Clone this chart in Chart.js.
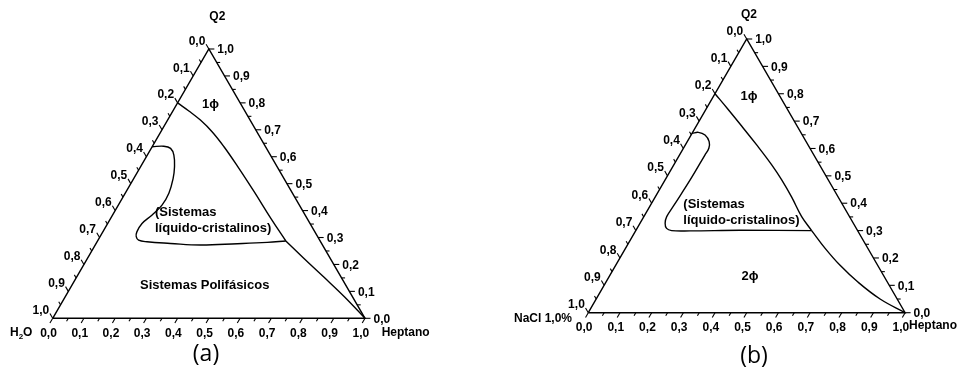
<!DOCTYPE html>
<html><head><meta charset="utf-8">
<script src="https://cdn.jsdelivr.net/npm/chart.js@4"></script>
<style>
html,body{margin:0;padding:0;background:#fff;width:962px;height:368px;overflow:hidden}
canvas{position:absolute;top:0}
#ca{left:0}
#cb{left:481px}
</style></head><body>
<canvas id="ca" width="481" height="368"></canvas>
<canvas id="cb" width="481" height="368"></canvas>
<script>
// ---- tick values / labels (shared by all three ternary axes) ----
const tickValues = [0, 0.1, 0.2, 0.3, 0.4, 0.5, 0.6, 0.7, 0.8, 0.9, 1.0];
const tickLabels = ['0,0','0,1','0,2','0,3','0,4','0,5','0,6','0,7','0,8','0,9','1,0'];
const minorTickValues = [0.05, 0.15, 0.25, 0.35, 0.45, 0.55, 0.65, 0.75, 0.85, 0.95];

// ---- diagram (a): H2O / Q2 / Heptano (fractions of Heptano and Q2) ----
// 1-phase boundary, upper branch (left edge -> junction) and lower branch (junction -> Heptano vertex)
const boundaryA_upper_heptano = [0, 0.051, 0.105, 0.165, 0.230, 0.309, 0.410, 0.513, 0.603];
const boundaryA_upper_q2      = [0.800, 0.770, 0.736, 0.692, 0.637, 0.565, 0.470, 0.371, 0.287];
const boundaryA_lower_heptano = [0.603, 0.695, 0.793, 0.894, 1];
const boundaryA_lower_q2      = [0.287, 0.221, 0.152, 0.080, 0];
// liquid-crystalline region
const lcA_heptano = [0, 0.036, 0.062, 0.085, 0.109, 0.126, 0.140, 0.140, 0.126, 0.110, 0.109, 0.116, 0.130, 0.160, 0.238, 0.337, 0.453, 0.546, 0.603];
const lcA_q2      = [0.637, 0.639, 0.631, 0.606, 0.562, 0.519, 0.464, 0.420, 0.383, 0.352, 0.321, 0.303, 0.290, 0.284, 0.278, 0.272, 0.277, 0.282, 0.287];

// ---- diagram (b): NaCl 1,0% / Q2 / Heptano ----
const boundaryB_upper_heptano = [0, 0.066, 0.143, 0.225, 0.309, 0.368, 0.431, 0.498, 0.555];
const boundaryB_upper_q2      = [0.800, 0.746, 0.682, 0.613, 0.540, 0.485, 0.422, 0.351, 0.300];
const boundaryB_lower_heptano = [0.555, 0.629, 0.707, 0.795, 0.896, 1];
const boundaryB_lower_q2      = [0.300, 0.236, 0.174, 0.112, 0.050, 0];
const lcB_heptano = [0, 0.018, 0.044, 0.069, 0.080, 0.080, 0.079, 0.074, 0.072, 0.079, 0.093, 0.113, 0.172, 0.328, 0.555];
const lcB_q2      = [0.655, 0.659, 0.649, 0.625, 0.601, 0.576, 0.485, 0.390, 0.351, 0.327, 0.308, 0.300, 0.299, 0.301, 0.300];

// ternary (heptano, q2) -> cartesian data space of a triangle with base [0,1] and apex at (0.5,1)
function toXY(h, q) { return { x: h + q / 2, y: q }; }
function series(hs, qs) { return hs.map((h, i) => toXY(h, qs[i])); }
const triangle = [toXY(0, 0), toXY(1, 0), toXY(0, 1), toXY(0, 0)];

const ternaryPlugin = {
  id: 'ternary',
  afterDatasetsDraw(chart, args, opts) {
    const ctx = chart.ctx, sx = chart.scales.x, sy = chart.scales.y;
    const P = (x, y) => ({ X: sx.getPixelForValue(x), Y: sy.getPixelForValue(y) });
    const unit = (a, b) => { const dx = b.X - a.X, dy = b.Y - a.Y, l = Math.hypot(dx, dy); return { X: dx / l, Y: dy / l }; };
    const BL = P(0, 0), BR = P(1, 0), T = P(0.5, 1);
    const dB = unit(T, BL), dR = { X: 1, Y: 0 }, dL = unit(BR, T);
    ctx.save();
    ctx.strokeStyle = '#000';
    ctx.lineWidth = 1.1;
    const tick = (p, d, len) => { ctx.beginPath(); ctx.moveTo(p.X, p.Y); ctx.lineTo(p.X + d.X * len, p.Y + d.Y * len); ctx.stroke(); };
    const all = tickValues.map(v => [v, 5.5]).concat(minorTickValues.map(v => [v, 3.5]));
    all.forEach(([v, len]) => {
      tick(P(v, 0), dB, len);
      tick(P(1 - v / 2, v), dR, len);
      tick(P((1 - v) / 2, 1 - v), dL, len);
    });
    ctx.fillStyle = '#000';
    ctx.font = 'bold 12px "Liberation Sans", Arial, sans-serif';
    ctx.textBaseline = 'alphabetic';
    tickValues.forEach((v, i) => {
      const lab = tickLabels[i];
      let p = P(v, 0); ctx.textAlign = 'center'; ctx.fillText(lab, p.X - 4.2, p.Y + 18.5);
      p = P(1 - v / 2, v); ctx.textAlign = 'left'; ctx.fillText(lab, p.X + 8.5, p.Y + 4.2);
      p = P((1 - v) / 2, 1 - v); ctx.textAlign = 'right'; ctx.fillText(lab, p.X - 3.5, p.Y - 4.4);
    });
    (opts.texts || []).forEach(t => {
      ctx.font = t.font; ctx.textAlign = t.align || 'left';
      ctx.textBaseline = t.baseline || 'alphabetic';
      if (t.parts) {
        let x = t.x;
        t.parts.forEach(pt => {
          ctx.font = pt.font || t.font; ctx.textAlign = 'left';
          ctx.fillText(pt.s, x, t.y + (pt.dy || 0));
          x += ctx.measureText(pt.s).width;
        });
      } else {
        ctx.fillText(t.text, t.x, t.y);
      }
    });
    ctx.restore();
  }
};

const LBL = 'bold 12px "Liberation Sans", Arial, sans-serif';
const ANN = 'bold 13px "Liberation Sans", Arial, sans-serif';
const CAP = '23px "Open Sans", Lato, sans-serif';

function makeChart(id, curves, padding, texts) {
  const lineDs = (data, tension) => ({
    data, showLine: true, borderColor: '#000', borderWidth: 1.4, pointRadius: 0,
    tension, fill: false, clip: false
  });
  return new Chart(document.getElementById(id), {
    type: 'scatter',
    data: { datasets: [lineDs(triangle, 0)].concat(curves.map(c => lineDs(c, 0.4))) },
    options: {
      responsive: false, animation: false, devicePixelRatio: 1,
      layout: { padding },
      scales: {
        x: { type: 'linear', min: 0, max: 1, display: false },
        y: { type: 'linear', min: 0, max: 1, display: false }
      },
      plugins: { legend: { display: false }, tooltip: { enabled: false }, ternary: { texts } }
    },
    plugins: [ternaryPlugin]
  });
}

makeChart('ca',
  [series(boundaryA_upper_heptano, boundaryA_upper_q2),
   series(boundaryA_lower_heptano, boundaryA_lower_q2),
   series(lcA_heptano, lcA_q2)],
  { left: 52.7, right: 116, top: 49, bottom: 49.7 },
  [
    { text: 'Q2', x: 217.3, y: 20.4, font: LBL, align: 'center' },
    { x: 10, y: 336, font: LBL, parts: [{ s: 'H' }, { s: '2', font: 'bold 8px "Liberation Sans", Arial, sans-serif', dy: 2.5 }, { s: 'O' }] },
    { text: 'Heptano', x: 381.7, y: 336, font: LBL, align: 'left' },
    { text: '1\u03D5', x: 210.5, y: 107.5, font: ANN, align: 'center' },
    { text: '(Sistemas', x: 155, y: 216, font: ANN, align: 'left' },
    { text: 'líquido-cristalinos)', x: 155, y: 231.5, font: ANN, align: 'left' },
    { text: 'Sistemas Polifásicos', x: 204.7, y: 288.8, font: ANN, align: 'center' },
    { text: '(a)', x: 206, y: 354, font: CAP, align: 'center', baseline: 'middle' }
  ]);

makeChart('cb',
  [series(boundaryB_upper_heptano, boundaryB_upper_q2),
   series(boundaryB_lower_heptano, boundaryB_lower_q2),
   series(lcB_heptano, lcB_q2)],
  { left: 107.3, right: 56.9, top: 39, bottom: 55.3 },
  [
    { text: 'Q2', x: 268, y: 18.3, font: LBL, align: 'center' },
    { text: 'NaCl 1,0%', x: 91, y: 322.3, font: LBL, align: 'right' },
    { text: 'Heptano', x: 428, y: 329, font: LBL, align: 'left' },
    { text: '1\u03D5', x: 268, y: 99.5, font: ANN, align: 'center' },
    { text: '(Sistemas', x: 202.3, y: 208, font: ANN, align: 'left' },
    { text: 'líquido-cristalinos)', x: 202.3, y: 223.5, font: ANN, align: 'left' },
    { text: '2\u03D5', x: 269, y: 279.5, font: ANN, align: 'center' },
    { text: '(b)', x: 273, y: 356, font: CAP, align: 'center', baseline: 'middle' }
  ]);
</script>
</body></html>
